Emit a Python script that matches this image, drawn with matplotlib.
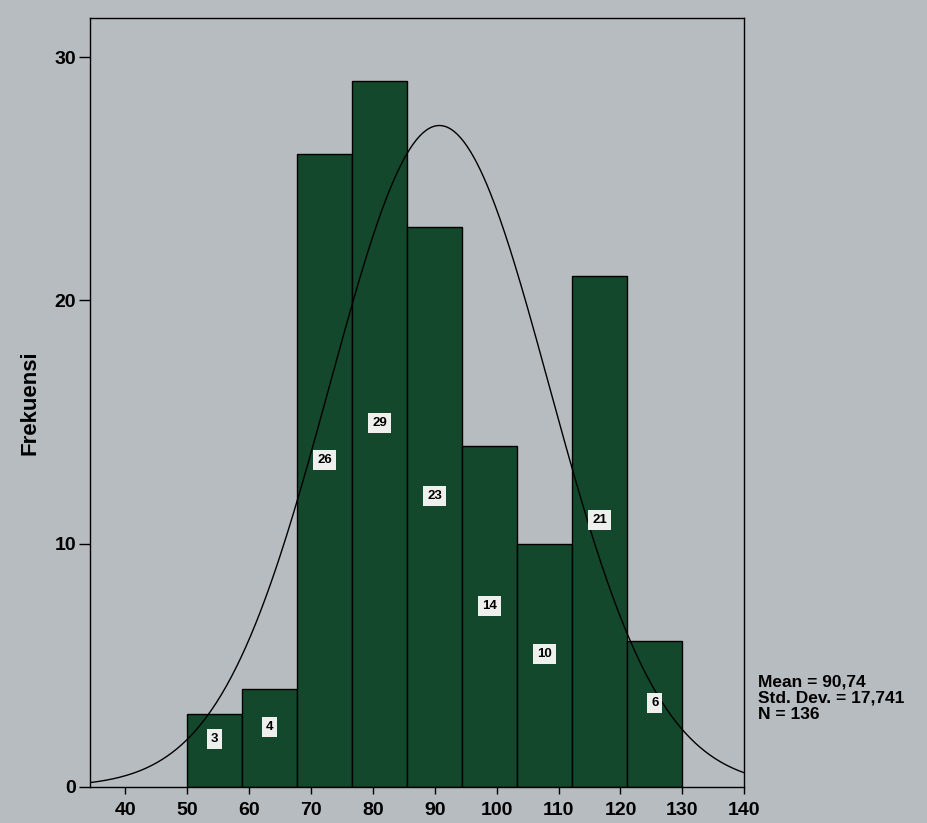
"""Histogram of score frequencies with fitted normal curve (SPSS style)."""

import numpy as np
import matplotlib.pyplot as plt

# Histogram data: 9 bins from 50 to 130
bin_start = 50.0
bin_end = 130.0
counts = [3, 4, 26, 29, 23, 14, 10, 21, 6]

# Summary statistics
mean = 90.74
std_dev = 17.741
n_total = 136

x_ticks = [40, 50, 60, 70, 80, 90, 100, 110, 120, 130, 140]
y_ticks = [0, 10, 20, 30]

paper = "#b7bcc0"
bar_green = "#13482c"

plt.rcParams["font.family"] = ["Liberation Sans", "DejaVu Sans"]
plt.rcParams["font.weight"] = "bold"

fig = plt.figure(figsize=(9.28, 8.23), dpi=100, facecolor=paper)
ax = fig.add_axes([0.097, 0.044, 0.705, 0.934], facecolor=paper)

n_bins = len(counts)
edges = np.linspace(bin_start, bin_end, n_bins + 1)
width = edges[1] - edges[0]
centers = edges[:-1] + width / 2

ax.bar(centers, counts, width=width, color=bar_green, edgecolor="black",
       linewidth=1.0, zorder=2)

# count labels inside each bar
for cx, c in zip(centers, counts):
    ax.text(cx, c / 2 + 0.45, str(c), ha="center", va="center",
            fontsize=9.5, fontweight="bold", color="black", zorder=4,
            bbox=dict(boxstyle="square,pad=0.3", facecolor="#eef0ee",
                      edgecolor="none"))

# normal curve scaled to the histogram
xs = np.linspace(34.3, 140, 400)
pdf = np.exp(-0.5 * ((xs - mean) / std_dev) ** 2) / (std_dev * np.sqrt(2 * np.pi))
ax.plot(xs, pdf * n_total * width, color="black", linewidth=1.0, zorder=3)

ax.set_xlim(34.3, 140)
ax.set_ylim(0, 31.6)
ax.set_xticks(x_ticks)
ax.set_yticks(y_ticks)
ax.tick_params(axis="both", labelsize=14, width=1.0, colors="black")
ax.tick_params(axis="x", length=5, pad=6)
ax.tick_params(axis="y", length=8, pad=2)
for lbl in ax.get_xticklabels() + ax.get_yticklabels():
    lbl.set_fontweight("bold")
for sp in ax.spines.values():
    sp.set_linewidth(1.0)
    sp.set_color("black")

ax.set_ylabel("Frekuensi", fontsize=16, fontweight="bold", labelpad=10)

stats_lines = [
    "Mean = " + f"{mean:.2f}".replace(".", ","),
    "Std. Dev. = " + f"{std_dev:.3f}".replace(".", ","),
    f"N = {n_total}",
]
fig.text(0.817, 0.152, "\n".join(stats_lines),
         fontsize=12.5, fontweight="bold", va="center", ha="left",
         linespacing=1.1)

fig.savefig("out.png", dpi=100, facecolor=paper)
